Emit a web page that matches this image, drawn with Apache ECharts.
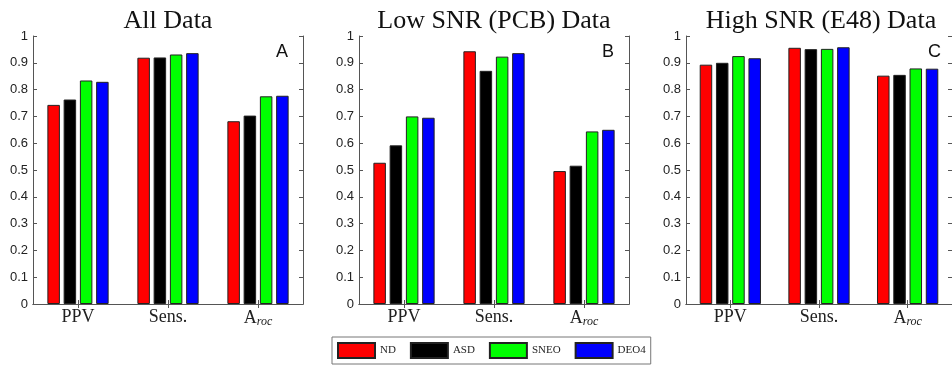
<!DOCTYPE html>
<html><head><meta charset="utf-8">
<script src="https://cdn.jsdelivr.net/npm/echarts@6/dist/echarts.min.js"></script>
<style>html,body{margin:0;padding:0;background:#fff}#c{width:952px;height:367px}</style>
</head><body><div id="c"></div>
<script>
const categories = ['PPV', 'Sens.', 'A_roc'];
const methods = ['ND', 'ASD', 'SNEO', 'DEO4'];
const panelTitles = ['All Data', 'Low SNR (PCB) Data', 'High SNR (E48) Data'];
const panelLetters = ['A', 'B', 'C'];
const yTicks = [0, 0.1, 0.2, 0.3, 0.4, 0.5, 0.6, 0.7, 0.8, 0.9, 1];

// values per panel, per method: [PPV, Sens., A_roc]
const allND   = [0.743, 0.919, 0.682];
const allASD  = [0.763, 0.920, 0.703];
const allSNEO = [0.834, 0.931, 0.775];
const allDEO4 = [0.829, 0.936, 0.777];

const lowND   = [0.527, 0.943, 0.496];
const lowASD  = [0.592, 0.870, 0.516];
const lowSNEO = [0.700, 0.923, 0.644];
const lowDEO4 = [0.695, 0.936, 0.650];

const highND   = [0.893, 0.956, 0.852];
const highASD  = [0.900, 0.951, 0.855];
const highSNEO = [0.925, 0.952, 0.879];
const highDEO4 = [0.917, 0.958, 0.878];

const panels = [
  [allND, allASD, allSNEO, allDEO4],
  [lowND, lowASD, lowSNEO, lowDEO4],
  [highND, highASD, highSNEO, highDEO4]
];

const colors = ['#ff0000', '#000000', '#00ff00', '#0000ff'];
const gridLefts = [33, 359, 686];
const gridWidth = 270;
const gridTop = 36, gridHeight = 268;
const axisCol = '#555';
const serif = '"Liberation Serif", "Times New Roman", serif';
const sans = '"Liberation Sans", Arial, sans-serif';

const grids = [], xAxes = [], yAxes = [], series = [], graphics = [];
for (let p = 0; p < 3; p++) {
  grids.push({left: gridLefts[p], top: gridTop, width: gridWidth, height: gridHeight, containLabel: false});
  const catLabel = {
    interval: 0, margin: 4, color: '#222', fontFamily: serif, fontSize: 18,
    formatter: v => v === 'A_roc' ? '{a|A}{s|roc}' : v,
    rich: {
      a: {fontFamily: serif, fontSize: 18, color: '#222'},
      s: {fontFamily: serif, fontSize: 12, fontStyle: 'italic', color: '#222', padding: [8, 0, 0, 0]}
    }
  };
  xAxes.push({type: 'category', gridIndex: p, data: categories, position: 'bottom',
    axisLine: {lineStyle: {color: axisCol, width: 1}},
    axisTick: {show: true, inside: true, alignWithLabel: true, interval: 0, length: 4, lineStyle: {color: axisCol}},
    axisLabel: catLabel});
  xAxes.push({type: 'category', gridIndex: p, data: categories, position: 'top',
    axisLine: {lineStyle: {color: axisCol, width: 1}},
    axisTick: {show: true, inside: true, alignWithLabel: true, interval: 0, length: 4, lineStyle: {color: axisCol}},
    axisLabel: {show: false}});
  yAxes.push({type: 'value', gridIndex: p, min: 0, max: 1, interval: 0.1, position: 'left',
    axisLine: {show: true, lineStyle: {color: axisCol}},
    axisTick: {show: true, inside: true, length: 4, lineStyle: {color: axisCol}},
    splitLine: {show: false},
    axisLabel: {margin: 5, color: '#222', fontFamily: sans, fontSize: 13,
      formatter: v => { const t = yTicks.find(x => Math.abs(x - v) < 1e-6); return t === undefined ? '' : String(t); }}});
  yAxes.push({type: 'value', gridIndex: p, min: 0, max: 1, interval: 0.1, position: 'right',
    axisLine: {show: true, lineStyle: {color: axisCol}},
    axisTick: {show: true, inside: true, length: 4, lineStyle: {color: axisCol}},
    splitLine: {show: false}, axisLabel: {show: false}});
  for (let m = 0; m < 4; m++) {
    series.push({
      name: methods[m], type: 'bar', xAxisIndex: p * 2, yAxisIndex: p * 2,
      data: panels[p][m], barWidth: 12.5, barGap: '30%',
      itemStyle: {color: colors[m], borderColor: '#222', borderWidth: 1},
      emphasis: {disabled: true}, animation: false
    });
  }
  graphics.push({type: 'text', x: gridLefts[p] + gridWidth / 2, y: 21,
    style: {text: panelTitles[p], font: '26px ' + serif, fill: '#111', textAlign: 'center', textVerticalAlign: 'middle'}});
  graphics.push({type: 'text', x: gridLefts[p] + gridWidth - 15, y: 52,
    style: {text: panelLetters[p], font: '18px ' + sans, fill: '#111', textAlign: 'right', textVerticalAlign: 'middle'}});
}

const chart = echarts.init(document.getElementById('c'), null, {renderer: 'canvas'});
chart.setOption({
  backgroundColor: '#fff',
  animation: false,
  grid: grids, xAxis: xAxes, yAxis: yAxes, series: series,
  legend: {
    data: methods, left: 332, top: 337, orient: 'horizontal',
    itemWidth: 37, itemHeight: 15, itemGap: 14, padding: [5, 5],
    borderColor: '#777', borderWidth: 1, icon: 'rect',
    textStyle: {fontFamily: serif, fontSize: 11, color: '#222'}
  },
  graphic: graphics
});
</script></body></html>
